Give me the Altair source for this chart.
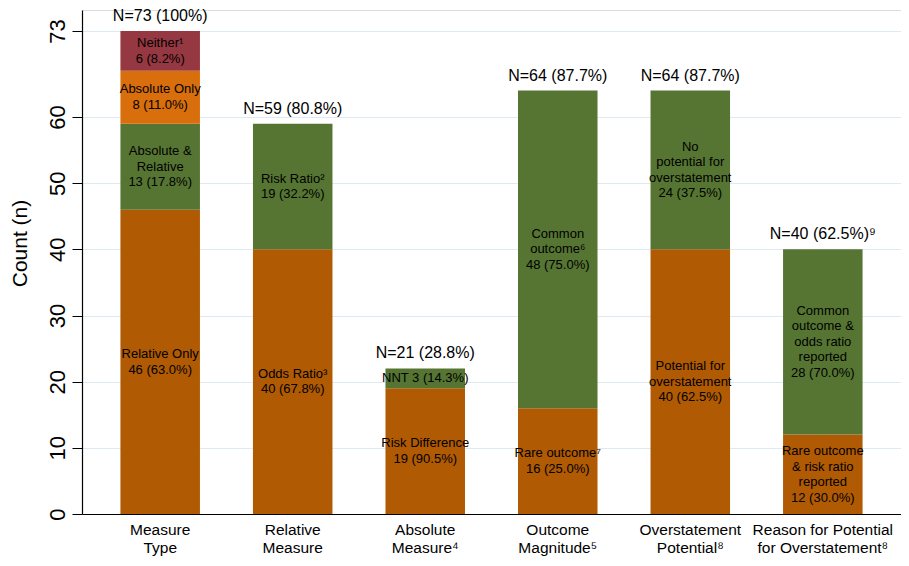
import altair as alt
import pandas as pd

FONT = "Liberation Sans"

categories = [
    "Measure|Type",
    "Relative|Measure",
    "Absolute|Measure⁴",
    "Outcome|Magnitude⁵",
    "Overstatement|Potential⁸",
    "Reason for Potential|for Overstatement⁸",
]

seg_category = [0, 0, 0, 0, 1, 1, 2, 2, 3, 3, 4, 4, 5, 5]
seg_values = [46, 13, 8, 6, 40, 19, 19, 3, 16, 48, 40, 24, 12, 28]
seg_kind = ["brown", "green", "orange", "red",
            "brown", "green",
            "brown", "green",
            "brown", "green",
            "brown", "green",
            "brown", "green"]
seg_labels = [
    "Relative Only\n46 (63.0%)",
    "Absolute &\nRelative\n13 (17.8%)",
    "Absolute Only\n8 (11.0%)",
    "Neither¹\n6 (8.2%)",
    "Odds Ratio³\n40 (67.8%)",
    "Risk Ratio²\n19 (32.2%)",
    "Risk Difference\n19 (90.5%)",
    "NNT 3 (14.3%)",
    "Rare outcome⁷\n16 (25.0%)",
    "Common\noutcome⁶\n48 (75.0%)",
    "Potential for\noverstatement\n40 (62.5%)",
    "No\npotential for\noverstatement\n24 (37.5%)",
    "Rare outcome\n& risk ratio\nreported\n12 (30.0%)",
    "Common\noutcome &\nodds ratio\nreported\n28 (70.0%)",
]
top_labels = [
    "N=73 (100%)",
    "N=59 (80.8%)",
    "N=21 (28.8%)",
    "N=64 (87.7%)",
    "N=64 (87.7%)",
    "N=40 (62.5%)⁹",
]
y_ticks = [0, 10, 20, 30, 40, 50, 60, 73]

kind_domain = ["brown", "green", "orange", "red"]
kind_colors = ["#B05A04", "#567532", "#D86E0C", "#963841"]

LINE_H = 15.5

rows = []
running = {}
for ci, v, k, lab in zip(seg_category, seg_values, seg_kind, seg_labels):
    cat = categories[ci]
    s = running.get(cat, 0)
    rows.append(dict(cat=cat, start=s, end=s + v, mid=s + v / 2, kind=k, label=lab,
                     nl=lab.count("\n")))
    running[cat] = s + v
seg = pd.DataFrame(rows)
tops = pd.DataFrame({
    "cat": categories,
    "total": [running[c] for c in categories],
    "label": top_labels,
})

xenc = alt.X(
    "cat:N", sort=categories,
    scale=alt.Scale(paddingInner=0.4, paddingOuter=0.29),
    axis=alt.Axis(
        title=None, labelAngle=0, labelExpr="split(datum.label, '|')",
        labelFontSize=15.5, labelLineHeight=18.5, labelPadding=8,
        labelBaseline="top", labelFont=FONT, labelColor="black",
        ticks=False, domainColor="black", domainWidth=1.2, grid=False,
    ),
)
yscale = alt.Scale(domain=[0, 76.18], nice=False, zero=True)

bars = alt.Chart(seg).mark_bar().encode(
    x=xenc,
    y=alt.Y(
        "start:Q", scale=yscale,
        axis=alt.Axis(
            values=y_ticks, title="Count (n)", titleFont=FONT, titleFontSize=21,
            titleFontWeight="normal", titleColor="black", titleAngle=-90,
            titleX=-62, titleY=233, titleAlign="center", titleBaseline="middle",
            labelAngle=-90, labelAlign="center", labelBaseline="bottom",
            labelFontSize=22, labelFont=FONT, labelColor="black", labelPadding=3,
            tickSize=10, tickColor="black", domainColor="black", domainWidth=1.2,
            grid=True, gridColor="#DEEAF1", gridWidth=1.2,
        ),
    ),
    y2="end:Q",
    color=alt.Color("kind:N", scale=alt.Scale(domain=kind_domain, range=kind_colors), legend=None),
)

text_layers = []
for n in sorted(seg["nl"].unique()):
    text_layers.append(
        alt.Chart(seg).transform_filter(alt.datum.nl == int(n)).mark_text(
            font=FONT, fontSize=13, lineHeight=LINE_H, color="black",
            lineBreak="\n", baseline="middle", align="center",
            dy=-float(n) * LINE_H / 2,
        ).encode(
            x=alt.X("cat:N", sort=categories),
            y=alt.Y("mid:Q", scale=yscale),
            text="label:N",
        )
    )

top_text = alt.Chart(tops).mark_text(
    font=FONT, fontSize=16, color="black", baseline="alphabetic", align="center", dy=-10,
).encode(
    x=alt.X("cat:N", sort=categories),
    y=alt.Y("total:Q", scale=yscale),
    text="label:N",
)

chart = alt.layer(bars, *text_layers, top_text).properties(
    width=819, height=504,
    autosize=alt.AutoSizeParams(type="none"),
    padding={"left": 74, "top": 2, "right": 0, "bottom": 44},
).configure_view(stroke=None).configure(background="white")

chart.save("out.html", embed_options={"renderer": "svg", "actions": False})
